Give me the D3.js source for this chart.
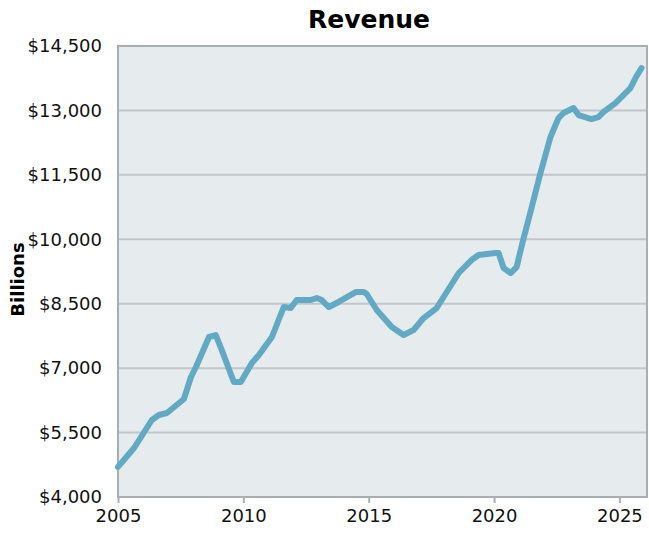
<!DOCTYPE html>
<html>
<head>
<meta charset="utf-8">
<script src="https://cdn.jsdelivr.net/npm/d3@7/dist/d3.min.js"></script>
<style>
  html, body { margin: 0; padding: 0; background: #ffffff; }
  svg { display: block; font-family: "DejaVu Sans", Verdana, sans-serif; }
</style>
</head>
<body>
<svg id="chart" width="649" height="534"></svg>
<script>
// Revenue series (billions of dollars), sampled by decimal year
const years = [
  2005.00, 2005.64, 2006.35, 2006.63, 2006.95, 2007.63, 2007.91, 2008.11,
  2008.63, 2008.90, 2009.14, 2009.62, 2009.90, 2010.34, 2010.62, 2011.14,
  2011.61, 2011.89, 2012.13, 2012.69, 2012.93, 2013.13, 2013.41, 2013.80,
  2013.92, 2014.48, 2014.80, 2014.92, 2015.32, 2015.92, 2016.39, 2016.79,
  2017.19, 2017.71, 2018.59, 2019.10, 2019.38, 2020.06, 2020.18, 2020.38,
  2020.66, 2020.90, 2021.00, 2021.18, 2021.37, 2021.85, 2022.25, 2022.57,
  2022.77, 2023.17, 2023.37, 2023.88, 2024.16, 2024.36, 2024.84, 2025.44,
  2025.64, 2025.88
];
const revenue = [
  4700, 5141, 5793, 5909, 5956, 6281, 6794, 7026,
  7725, 7771, 7422, 6677, 6677, 7120, 7306, 7725,
  8423, 8400, 8586, 8586, 8633, 8586, 8423, 8540,
  8586, 8772, 8772, 8726, 8353, 7958, 7771, 7888,
  8167, 8400, 9215, 9517, 9634, 9680, 9680, 9331,
  9215, 9354, 9600, 10030, 10449, 11543, 12381, 12823,
  12940, 13056, 12893, 12800, 12846, 12963, 13172, 13522,
  13754, 13987
];
const yTicks = [4000, 5500, 7000, 8500, 10000, 11500, 13000, 14500];
const xTicks = [2005, 2010, 2015, 2020, 2025];
const title = "Revenue";
const yTitle = "Billions";

const svg = d3.select("#chart");
const width = 649, height = 534;
const margin = { top: 46, right: 2, bottom: 37, left: 118 };
const innerW = width - margin.left - margin.right;
const innerH = height - margin.top - margin.bottom;

const x = d3.scaleLinear().domain([2005, 2026.1]).range([0, innerW]);
const y = d3.scaleLinear().domain([4000, 14500]).range([innerH, 0]);

const g = svg.append("g").attr("transform", `translate(${margin.left},${margin.top})`);

// plot background
g.append("rect")
  .attr("width", innerW).attr("height", innerH)
  .attr("fill", "#e6ebee");

// horizontal gridlines
g.append("g")
  .selectAll("line")
  .data(yTicks.slice(1, -1))
  .join("line")
  .attr("x1", 0).attr("x2", innerW)
  .attr("y1", d => y(d)).attr("y2", d => y(d))
  .attr("stroke", "#c2c6ca").attr("stroke-width", 2);

// frame
g.append("rect")
  .attr("width", innerW).attr("height", innerH)
  .attr("fill", "none")
  .attr("stroke", "#a9aeb3").attr("stroke-width", 2);

// y axis labels
const yAxis = d3.axisLeft(y)
  .tickValues(yTicks)
  .tickSize(0)
  .tickPadding(16)
  .tickFormat(d => "$" + d3.format(",")(d));
g.append("g").call(yAxis)
  .call(s => s.select(".domain").remove())
  .selectAll("text")
  .attr("font-size", 18).attr("fill", "#111")
  .attr("font-family", "DejaVu Sans, Verdana, sans-serif");

// x axis
const xAxis = d3.axisBottom(x)
  .tickValues(xTicks)
  .tickSize(6)
  .tickPadding(6)
  .tickFormat(d3.format("d"));
const gx = g.append("g").attr("transform", `translate(0,${innerH})`).call(xAxis);
gx.select(".domain").remove();
gx.selectAll(".tick line").attr("stroke", "#a9aeb3").attr("stroke-width", 2);
gx.selectAll("text")
  .attr("font-size", 18).attr("fill", "#111")
  .attr("font-family", "DejaVu Sans, Verdana, sans-serif");

// revenue line
const data = years.map((yr, i) => ({ yr, v: revenue[i] }));
const line = d3.line().x(d => x(d.yr)).y(d => y(d.v));
g.append("path")
  .datum(data)
  .attr("d", line)
  .attr("fill", "none")
  .attr("stroke", "#62aac4")
  .attr("stroke-width", 6)
  .attr("stroke-linejoin", "round")
  .attr("stroke-linecap", "round");

// title
svg.append("text")
  .attr("x", 369).attr("y", 28)
  .attr("text-anchor", "middle")
  .attr("font-size", 25).attr("font-weight", "bold")
  .attr("fill", "#000")
  .text(title);

// y axis title
svg.append("text")
  .attr("transform", `translate(24,${margin.top + innerH / 2 + 8}) rotate(-90)`)
  .attr("text-anchor", "middle")
  .attr("font-size", 18).attr("font-weight", "bold")
  .attr("fill", "#000")
  .text(yTitle);
</script>
</body>
</html>
